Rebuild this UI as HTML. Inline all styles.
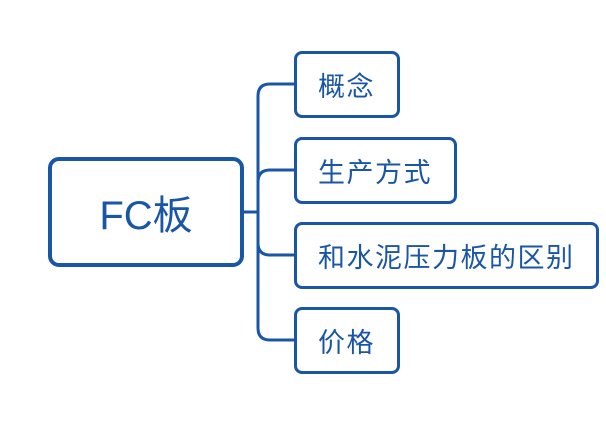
<!DOCTYPE html>
<html><head><meta charset="utf-8"><style>
body{margin:0;width:606px;height:423px;background:#fff;position:relative;overflow:hidden;font-family:"Liberation Sans","Noto Sans CJK SC",sans-serif;color:#1a56a6}
.b{position:absolute;box-sizing:border-box;border:3px solid #1a56a6;border-radius:8px;background:#fff;display:flex;align-items:center;font-size:27px;letter-spacing:1.5px;padding-left:21px}
</style></head><body>
<svg width="606" height="423" style="position:absolute;left:0;top:0">
<g fill="none" stroke="#1a56a6" stroke-width="3">
<path d="M243 212 H258"/>
<path d="M296 84 H270 Q258 84 258 96 V328 Q258 340 270 340 H296"/>
<path d="M296 170 H270 Q258 170 258 182"/>
<path d="M296 255 H270 Q258 255 258 243"/>
</g></svg>
<div class="b" style="left:48px;top:157px;width:196px;height:110px;border-width:4px;border-radius:11px;font-size:40px;letter-spacing:0;padding-left:0;justify-content:center">FC板</div>
<div class="b" style="left:294px;top:51px;width:106px;height:67px">概念</div>
<div class="b" style="left:294px;top:137px;width:163px;height:67px">生产方式</div>
<div class="b" style="left:294px;top:222px;width:305px;height:67px">和水泥压力板的区别</div>
<div class="b" style="left:294px;top:307px;width:106px;height:67px">价格</div>
</body></html>
